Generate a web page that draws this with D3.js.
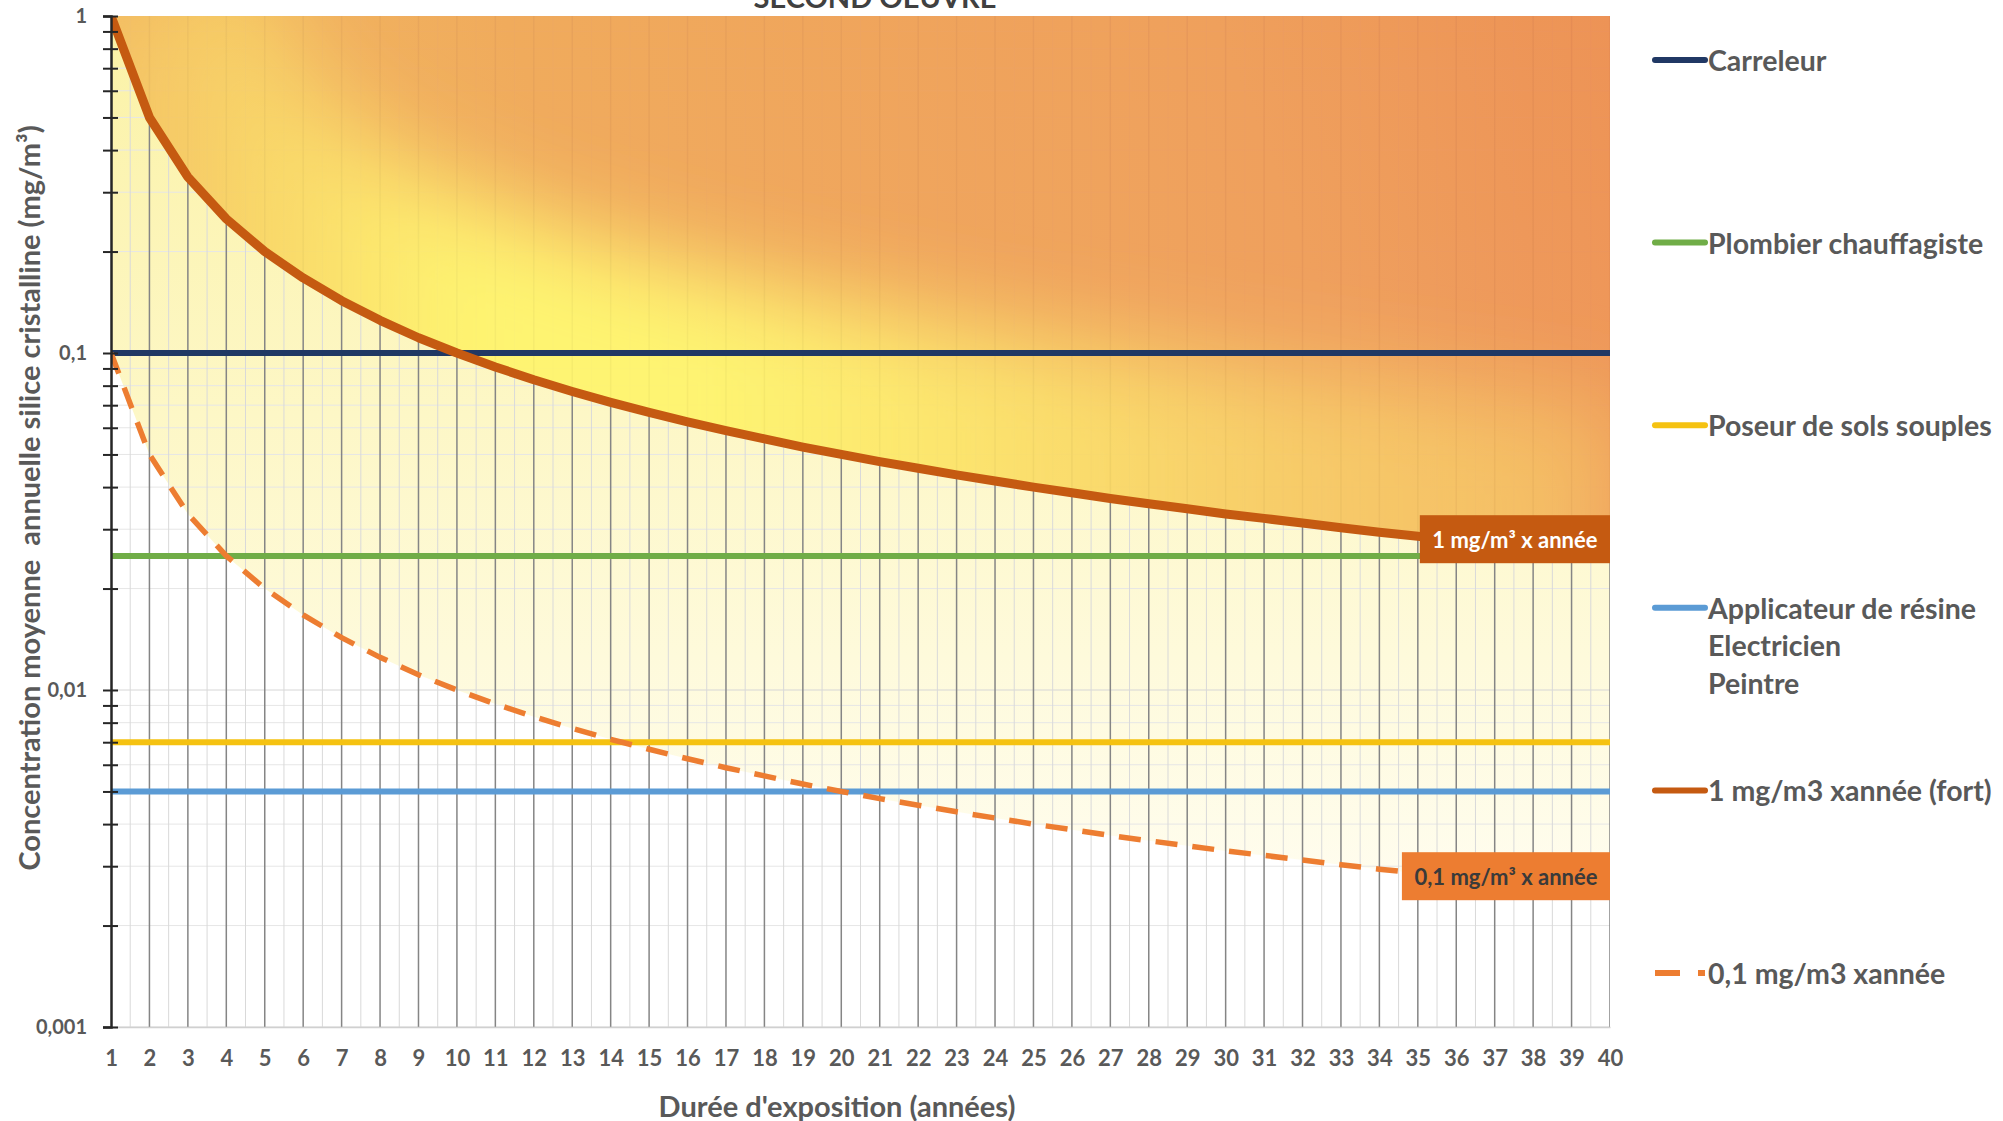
<!DOCTYPE html>
<html>
<head>
<meta charset="utf-8">
<script src="https://cdn.jsdelivr.net/npm/d3@7/dist/d3.min.js"></script>
<style>
  body { margin: 0; background: #fff; }
  svg text { font-family: Lato, "Open Sans", sans-serif; font-weight: bold; fill: #595959; white-space: pre; }
</style>
</head>
<body>
<svg id="svg"></svg>
<script>
const W = 2003, H = 1121;

// durée d'exposition (années)
const years = [1, 2, 3, 4, 5, 6, 7, 8, 9, 10, 11, 12, 13, 14, 15, 16, 17, 18, 19, 20,
  21, 22, 23, 24, 25, 26, 27, 28, 29, 30, 31, 32, 33, 34, 35, 36, 37, 38, 39, 40];

// 1 mg/m3 x année (fort)
const strong = [1, 0.5, 0.333, 0.25, 0.2, 0.167, 0.143, 0.125, 0.111, 0.1,
  0.0909, 0.0833, 0.0769, 0.0714, 0.0667, 0.0625, 0.0588, 0.0556, 0.0526, 0.05,
  0.0476, 0.0455, 0.0435, 0.0417, 0.04, 0.0385, 0.037, 0.0357, 0.0345, 0.0333,
  0.0323, 0.0313, 0.0303, 0.0294, 0.0286, 0.0278, 0.027, 0.0263, 0.0256, 0.025];

// 0,1 mg/m3 x année
const weak = [0.1, 0.05, 0.0333, 0.025, 0.02, 0.0167, 0.0143, 0.0125, 0.0111, 0.01,
  0.00909, 0.00833, 0.00769, 0.00714, 0.00667, 0.00625, 0.00588, 0.00556, 0.00526, 0.005,
  0.00476, 0.00455, 0.00435, 0.00417, 0.004, 0.00385, 0.0037, 0.00357, 0.00345, 0.00333,
  0.00323, 0.00313, 0.00303, 0.00294, 0.00286, 0.00278, 0.0027, 0.00263, 0.00256, 0.0025];

// métiers : concentration moyenne annuelle
const jobNames = ["Carreleur", "Plombier chauffagiste", "Poseur de sols souples", "Applicateur de résine"];
const jobValues = [0.1, 0.025, 0.007, 0.005];
const jobColors = ["#203864", "#70ad47", "#f5c211", "#5b9bd5"];

const yTicks = [1, 0.1, 0.01, 0.001];
const yTickLabels = ["1", "0,1", "0,01", "0,001"];

const legendLabels = [
  ["Carreleur"],
  ["Plombier chauffagiste"],
  ["Poseur de sols souples"],
  ["Applicateur de résine", "Electricien", "Peintre"],
  ["1 mg/m3 xannée (fort)"],
  ["0,1 mg/m3 xannée"]
];
const legendColors = ["#203864", "#70ad47", "#f5c211", "#5b9bd5", "#c55a11", "#ed7d31"];

const labelYear = 35;
const boxLabels = ["1 mg/m³ x année", "0,1 mg/m³ x année"];

const svg = d3.select("#svg").attr("width", W).attr("height", H);

const pL = 111, pR = 1610, pT = 16, pB = 1027;
const x = d3.scaleLinear().domain([1, 40]).range([pL, pR]);
const y = d3.scaleLog().domain([0.001, 1]).range([pB, pT]);

const line = d3.line().x((d, i) => x(years[i])).y(d => y(d));
const areaTop = d3.area().x((d, i) => x(years[i])).y0(y(1)).y1(d => y(d));

const defs = svg.append("defs");
defs.append("clipPath").attr("id", "plot")
  .append("rect").attr("x", pL).attr("y", pT).attr("width", pR - pL).attr("height", pB - pT);
defs.append("clipPath").attr("id", "hotClip")
  .append("path").attr("d", areaTop(strong));

// fond orange, plus clair en bas à gauche
const hot = defs.append("linearGradient").attr("id", "hot")
  .attr("gradientUnits", "userSpaceOnUse")
  .attr("x1", pL).attr("y1", 600).attr("x2", pR).attr("y2", pT);
[[0, "#f5be60"], [0.14, "#f2b45d"], [0.36, "#f0a657"], [0.77, "#ef9a57"], [1, "#ed8c50"]]
  .forEach(s => hot.append("stop").attr("offset", s[0]).attr("stop-color", s[1]));

// lueur jaune le long de la courbe
const glow = defs.append("linearGradient").attr("id", "glow")
  .attr("gradientUnits", "userSpaceOnUse")
  .attr("x1", pL).attr("y1", 0).attr("x2", pR).attr("y2", 0);
[[0, 0.15], [0.09, 0.5], [0.23, 1], [0.4, 1], [0.6, 0.75], [0.79, 0.5], [1, 0.35]]
  .forEach(s => glow.append("stop").attr("offset", s[0]).attr("stop-color", "#fff46c").attr("stop-opacity", s[1]));
defs.append("filter").attr("id", "blur")
  .attr("filterUnits", "userSpaceOnUse").attr("x", 0).attr("y", -300).attr("width", W).attr("height", H + 600)
  .append("feGaussianBlur").attr("stdDeviation", 45);

const pale = defs.append("linearGradient").attr("id", "pale")
  .attr("gradientUnits", "userSpaceOnUse")
  .attr("x1", 0).attr("y1", pT).attr("x2", 0).attr("y2", 900);
[[0, "#fbf2a6"], [0.45, "#fdf7c6"], [1, "#fffdf0"]]
  .forEach(s => pale.append("stop").attr("offset", s[0]).attr("stop-color", s[1]));

const plot = svg.append("g").attr("clip-path", "url(#plot)");

// zone sous le seuil fort
plot.append("path").attr("d", areaTop(weak)).attr("fill", "url(#pale)");

// grille
const logTicks = y.ticks();
plot.append("g").selectAll("line").data(logTicks).join("line")
  .attr("x1", pL).attr("x2", pR)
  .attr("y1", d => y(d)).attr("y2", d => y(d))
  .attr("stroke", d => yTicks.includes(d) ? "#d6d6d6" : "#e6e6e6")
  .attr("stroke-width", 1);

const halves = years.slice(0, -1).map(d => d + 0.5);
plot.append("g").selectAll("line").data(halves).join("line")
  .attr("x1", d => x(d)).attr("x2", d => x(d))
  .attr("y1", pT).attr("y2", pB)
  .attr("stroke", "#d9d9d9").attr("stroke-width", 1);
plot.append("g").selectAll("line").data(years).join("line")
  .attr("x1", d => x(d)).attr("x2", d => x(d))
  .attr("y1", pT).attr("y2", pB)
  .attr("stroke", "#858585").attr("stroke-width", 1.5);

// zone au-dessus du seuil fort
const hotG = plot.append("g").attr("opacity", 0.93);
hotG.append("path").attr("d", areaTop(strong)).attr("fill", "url(#hot)");
hotG.append("g").attr("clip-path", "url(#hotClip)")
  .append("path").attr("d", line(strong))
  .attr("fill", "none").attr("stroke", "url(#glow)").attr("stroke-width", 300)
  .attr("stroke-linejoin", "round").attr("filter", "url(#blur)");

// axe x
const xAxis = svg.append("g").attr("transform", `translate(0,${pB})`)
  .call(d3.axisBottom(x).tickValues(years).tickFormat(d3.format("d")).tickSize(0).tickPadding(23));
xAxis.select(".domain").attr("stroke", "#d0d0d0").attr("stroke-width", 1.5);
xAxis.selectAll("text").attr("font-size", 22);

// métiers
plot.append("g").selectAll("line").data(jobValues).join("line")
  .attr("x1", x(1)).attr("x2", x(40))
  .attr("y1", d => y(d)).attr("y2", d => y(d))
  .attr("stroke", (d, i) => jobColors[i]).attr("stroke-width", 6);

// courbes de dose
plot.append("path").attr("d", line(weak))
  .attr("fill", "none").attr("stroke", "#ed7d31").attr("stroke-width", 5.5)
  .attr("stroke-dasharray", "22,15");
plot.append("path").attr("d", line(strong))
  .attr("fill", "none").attr("stroke", "#c55a11").attr("stroke-width", 9)
  .attr("stroke-linejoin", "round");

// axe y
const yAxis = svg.append("g").attr("transform", `translate(${pL},0)`)
  .call(d3.axisLeft(y).tickValues(logTicks).tickSize(8).tickPadding(16)
    .tickFormat(d => { const k = yTicks.indexOf(d); return k < 0 ? "" : yTickLabels[k]; }));
yAxis.select(".domain").attr("stroke", "#262626").attr("stroke-width", 2.5);
yAxis.selectAll(".tick line").attr("x1", 7).attr("stroke", "#262626").attr("stroke-width", 2);
yAxis.selectAll("text").attr("font-size", 20);

// étiquettes
const k35 = years.indexOf(labelYear);
[[strong[k35], "#c55a11", "#ffffff"], [weak[k35], "#ed7d31", "#3a3a3a"]].forEach((b, i) => {
  const g = svg.append("g");
  const r = g.append("rect").attr("fill", b[1]);
  const t = g.append("text").text(boxLabels[i]).attr("font-size", 22)
    .style("fill", b[2]).attr("dominant-baseline", "central");
  const w = t.node().getComputedTextLength() + 25;
  const yc = y(b[0]) + 3;
  r.attr("x", pR - w).attr("y", yc - 24).attr("width", w).attr("height", 48);
  t.attr("x", pR - w + 12.5).attr("y", yc);
});

// légende
const legend = svg.append("g");
legendLabels.forEach((lines, i) => {
  const ly = 60 + i * 182.6;
  legend.append("line")
    .attr("x1", 1655).attr("x2", 1705).attr("y1", ly).attr("y2", ly)
    .attr("stroke", legendColors[i]).attr("stroke-width", 6)
    .attr("stroke-linecap", i === 5 ? "butt" : "round")
    .attr("stroke-dasharray", i === 5 ? "25,18" : null);
  lines.forEach((s, j) => {
    legend.append("text").attr("x", 1708).attr("y", ly + j * 37.5)
      .attr("dominant-baseline", "central").attr("font-size", 28.5).text(s);
  });
});

// titres
svg.append("text").attr("x", 875).attr("y", 8).attr("text-anchor", "middle")
  .attr("font-size", 29).style("fill", "#404040").text("SECOND OEUVRE");
svg.append("text").attr("x", 837).attr("y", 1105).attr("text-anchor", "middle")
  .attr("dominant-baseline", "central").attr("font-size", 29).text("Durée d'exposition (années)");
svg.append("text").attr("transform", "translate(28,498) rotate(-90)").attr("text-anchor", "middle")
  .attr("dominant-baseline", "central").attr("font-size", 29)
  .text("Concentration moyenne  annuelle silice cristalline (mg/m³)");
</script>
</body>
</html>
